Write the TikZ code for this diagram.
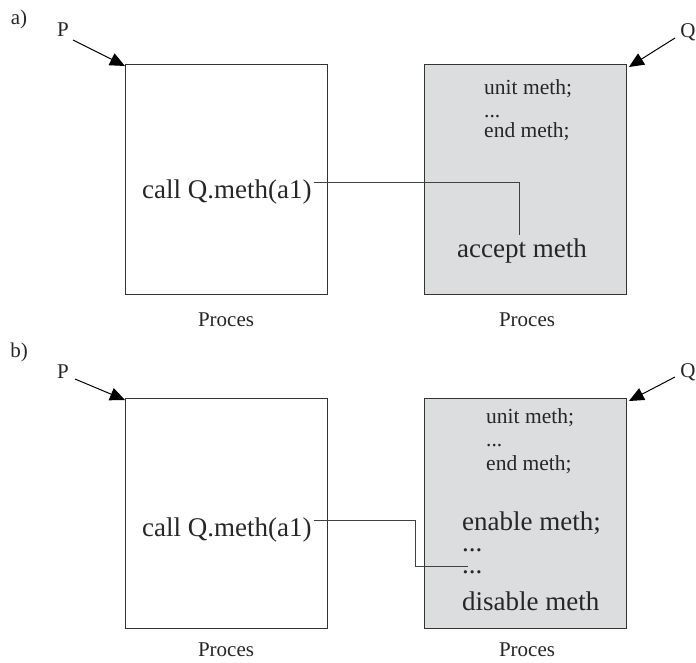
\documentclass[tikz,border=0pt]{standalone}
\usepackage{fontspec}
\setmainfont{Liberation Serif}
\usetikzlibrary{arrows.meta,calc}
\definecolor{boxfill}{HTML}{DCDDDF}
\definecolor{edgecol}{HTML}{333333}
\begin{document}
\begin{tikzpicture}[x=1pt,y=-1pt,
  procbox/.style={draw=edgecol, line width=0.9pt, minimum width=202pt, minimum height=230pt, inner sep=0pt, anchor=north west},
  qbox/.style={procbox, fill=boxfill},
  big/.style={font=\fontsize{27}{32}\selectfont, inner sep=0pt, anchor=base west, text=black!85},
  small/.style={font=\fontsize{21.5}{26}\selectfont, inner sep=0pt, anchor=base west, text=black!85},
  dots/.style={text height=3pt, text depth=0pt},
  lbl/.style={font=\fontsize{21}{25}\selectfont, inner sep=0pt, anchor=base, text=black!85, text depth=0pt},
  pointer/.style={draw=black, line width=1pt, -{Triangle[length=15pt,width=13pt]}},
  wire/.style={draw=black!75, line width=0.9pt}]
\useasboundingbox (0,0) rectangle (696,662);

% ---------- panel a ----------
\node[procbox] (pa) at (125,64) {};
\node[qbox] (qa) at (424,64) {};
\node[lbl] (la) at (19,24) {a)};
\node[lbl] (Pa) at (63,36) {P};
\node[lbl] (Qa) at (688,37) {Q};
\coordinate (pat) at (73,40);
\coordinate (qat) at (675,38);
\draw[pointer] (pat) -- ($(pa.north west)+(0,2)$);
\draw[pointer] (qat) -- ($(qa.north east)+(2,3)$);
\node[small] (ua) at (484,94) {unit meth;};
\node[small,dots] (da) at (484,117) {...};
\node[small] (ea) at (484,137) {end meth;};
\node[big] (acc) at (457,257) {accept meth};
\node[big] (callA) at (142,198) {call Q.meth(a1)};
\node[lbl] (pra) at (226,326) {Proces};
\node[lbl] (qra) at (527,326) {Proces};
\coordinate (ja) at (519,235);
\draw[wire] ($(callA.base east)+(2,-16)$) -| (ja);

% ---------- panel b ----------
\node[procbox] (pb) at (125,398) {};
\node[qbox] (qb) at (424,398) {};
\node[lbl] (lb) at (19,357) {b)};
\node[lbl] (Pb) at (63,378) {P};
\node[lbl] (Qb) at (688,377) {Q};
\coordinate (pbt) at (75,379);
\coordinate (qbt) at (675,377);
\draw[pointer] (pbt) -- ($(pb.north west)+(0,2)$);
\draw[pointer] (qbt) -- ($(qb.north east)+(2,3)$);
\node[small] (ub) at (486,423) {unit meth;};
\node[small,dots] (db) at (486,446) {...};
\node[small] (eb) at (486,470) {end meth;};
\node[big] (en) at (462,530) {enable meth;};
\node[big,dots] (d1) at (462,551) {...};
\node[big,dots] (d2) at (462,573) {...};
\node[big] (dis) at (462,610) {disable meth};
\node[big] (callB) at (142,536) {call Q.meth(a1)};
\node[lbl] (prb) at (226,656) {Proces};
\node[lbl] (qrb) at (527,656) {Proces};
\coordinate (jb1) at (415,566);
\coordinate (jb2) at (468,566);
\draw[wire] ($(callB.base east)+(2,-16)$) -| (jb1) -- (jb2);
\end{tikzpicture}
\end{document}
